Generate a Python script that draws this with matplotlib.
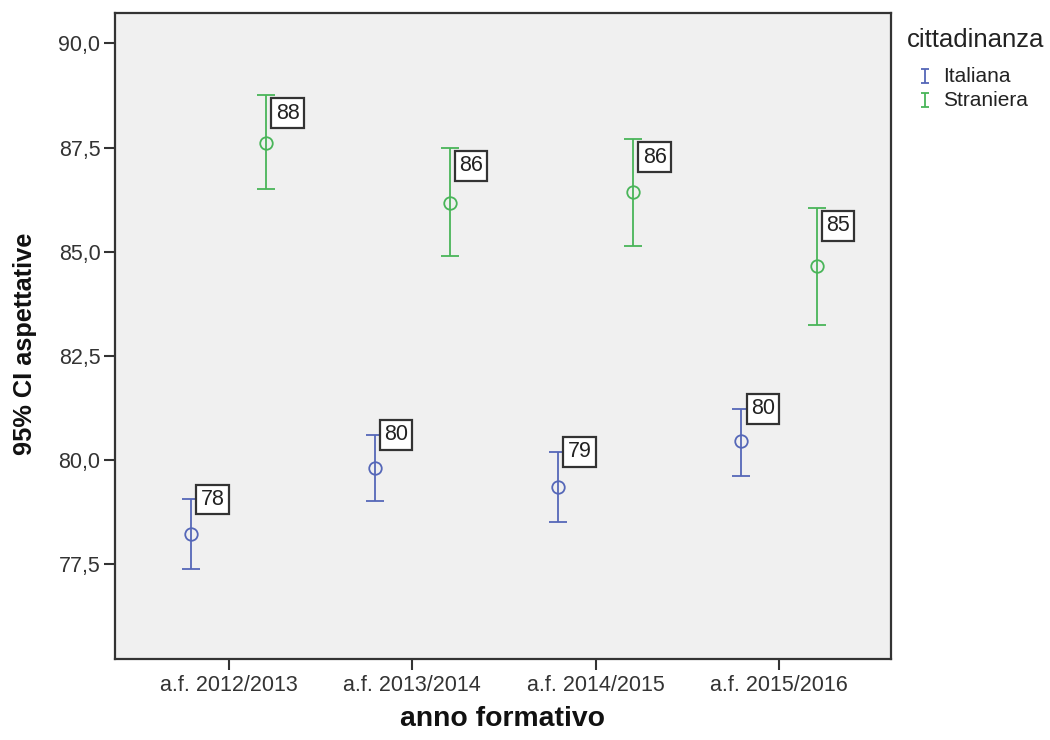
import matplotlib
matplotlib.use("Agg")
import matplotlib.pyplot as plt
from matplotlib.path import Path
from matplotlib.lines import Line2D
import numpy as np

categories = ["a.f. 2012/2013", "a.f. 2013/2014", "a.f. 2014/2015", "a.f. 2015/2016"]
groups = ["Italiana", "Straniera"]
italiana_mean = [78.22, 79.81, 79.36, 80.45]
italiana_low = [77.39, 79.03, 78.52, 79.62]
italiana_high = [79.06, 80.61, 80.20, 81.23]
straniera_mean = [87.62, 86.18, 86.44, 84.66]
straniera_low = [86.50, 84.89, 85.14, 83.25]
straniera_high = [88.76, 87.50, 87.71, 86.06]
yticks = [77.5, 80.0, 82.5, 85.0, 87.5, 90.0]
ytick_labels = ["77,5", "80,0", "82,5", "85,0", "87,5", "90,0"]

colors = ["#5567b8", "#49b559"]
plt.rcParams['font.family'] = ['Liberation Sans', 'DejaVu Sans']

W, H = 1050, 740
fig = plt.figure(figsize=(W / 100, H / 100), dpi=100)
ax = fig.add_axes([115 / W, 81 / H, 776 / W, 646 / H])
ax.set_facecolor("#f0f0f0")

x = np.arange(len(categories))
offsets = [-0.205, 0.205]
# label placement per series: (vertical alignment, y offset in points)
label_style = [('center', 0), ('top', -5.5)]
series = [(italiana_mean, italiana_low, italiana_high),
          (straniera_mean, straniera_low, straniera_high)]
for (m, lo, hi), off, c, (va, dy) in zip(series, offsets, colors, label_style):
    m = np.array(m); lo = np.array(lo); hi = np.array(hi)
    xs = x + off
    ax.errorbar(xs, m, yerr=[m - lo, hi - m], fmt='o', mfc='none', mec=c,
                ms=9, mew=1.3, ecolor=c, elinewidth=1.3, capsize=6.8, capthick=1.3, color=c)
    for xi, mi, hii in zip(xs, m, hi):
        ax.annotate(f"{int(round(mi))}", xy=(xi, hii), xytext=(6.8, dy),
                    textcoords='offset points', ha='left', va=va, fontsize=15.5,
                    color='#222222',
                    bbox=dict(boxstyle='square,pad=0.2', fc='white', ec='#333333', lw=1.6))

ax.set_xlim(-0.62, 3.61)
ax.set_ylim(75.23, 90.73)
ax.set_xticks(x)
ax.set_xticklabels(categories, fontsize=15.5, color='#333333')
ax.set_yticks(yticks)
ax.set_yticklabels(ytick_labels, fontsize=15.5, color='#333333')
ax.tick_params(axis='both', direction='out', length=8, width=1.5, color='#333333')
ax.tick_params(axis='x', pad=3.5)
ax.tick_params(axis='y', pad=2.5)
for s in ax.spines.values():
    s.set_color('#333333')
    s.set_linewidth(1.6)

ax.set_xlabel("anno formativo", fontsize=20.4, fontweight='bold', color='#111111')
ax.xaxis.set_label_coords(0.5, -0.072)
ax.set_ylabel("95% CI aspettative", fontsize=18.3, fontweight='bold', color='#111111')
ax.yaxis.set_label_coords(-0.101, 0.488)

# legend (drawn manually to match layout)
fig.text(907 / W, 1 - 40 / H, "cittadinanza", fontsize=18.5, ha='left', va='center', color='#222222')
cap_path = Path([(-0.6, 1), (0.6, 1), (0, 1), (0, -1), (-0.6, -1), (0.6, -1)],
                [Path.MOVETO, Path.LINETO, Path.MOVETO, Path.LINETO, Path.MOVETO, Path.LINETO])
entry_y = [76, 100]
for g, c, yy in zip(groups, colors, entry_y):
    fig.add_artist(Line2D([925 / W], [1 - yy / H], transform=fig.transFigure, linestyle='none',
                          marker=cap_path, ms=9.4, mec=c, mew=1.3, mfc='none'))
    fig.text(943 / W, 1 - yy / H, g, fontsize=15, ha='left', va='center', color='#222222')

fig.savefig("out.png", dpi=100)
